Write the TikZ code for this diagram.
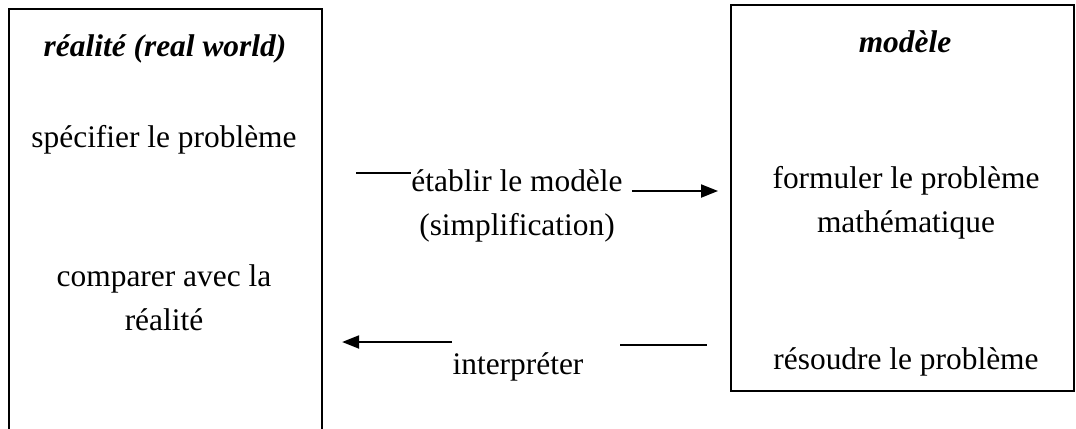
\documentclass[tikz,border=0pt]{standalone}
\usepackage{fontspec}
\setmainfont{Liberation Serif}
\usetikzlibrary{arrows.meta, positioning, calc}
\tikzset{
  boite/.style={draw, line width=0.75pt, inner sep=0pt},
  texte/.style={inner sep=0pt, anchor=base, align=center, font=\fontsize{12}{16.8}\selectfont},
  titre/.style={texte, font=\fontsize{12}{16.8}\selectfont\bfseries\itshape},
  fleche/.style={line width=0.7pt, -{Triangle[length=6.5pt, width=5pt]}},
  trait/.style={line width=0.7pt}
}

\begin{document}
\begin{tikzpicture}[x=0.382pt, y=-0.382pt]
  \useasboundingbox (0,0) rectangle (1076,428);
  \clip (0,0) rectangle (1076,428);

  \node[boite, minimum width=119.6pt, minimum height=167.7pt] (reel) at (165.5,228.5) {};
  \node[boite, minimum width=131pt, minimum height=147.5pt] (modele) at (902.5,198) {};

  \node[titre] (titreReel) at (165,56) {réalité (real world)};
  \node[texte] (specifier) at (164,147) {spécifier le problème};
  \node[texte] (comparer) at (164,330) {comparer avec la\\réalité};

  \node[titre] (titreModele) at (905,52) {modèle};
  \node[texte] (formuler) at (906,232) {formuler le problème\\mathématique};
  \node[texte] (resoudre) at (906,369) {résoudre le problème};

  \node[texte] (etablir) at (517,235) {établir le modèle\\(simplification)};
  \node[texte] (interpreter) at (518,374) {interpréter};

  \coordinate (hautG) at (356,173);
  \coordinate (hautD) at (0,191);
  \coordinate (basG) at (0,342);
  \coordinate (basD) at (620,345);

  \draw[trait] (hautG) -- (hautG -| etablir.west);
  \draw[fleche, shorten <=3.4pt, shorten >=4.6pt] (etablir.east |- hautD) -- (modele.west |- hautD);
  \draw[fleche, shorten >=7.3pt] (interpreter.west |- basG) -- (reel.east |- basG);
  \draw[trait, shorten >=8.8pt] (basD) -- (basD -| modele.west);
\end{tikzpicture}
\end{document}
